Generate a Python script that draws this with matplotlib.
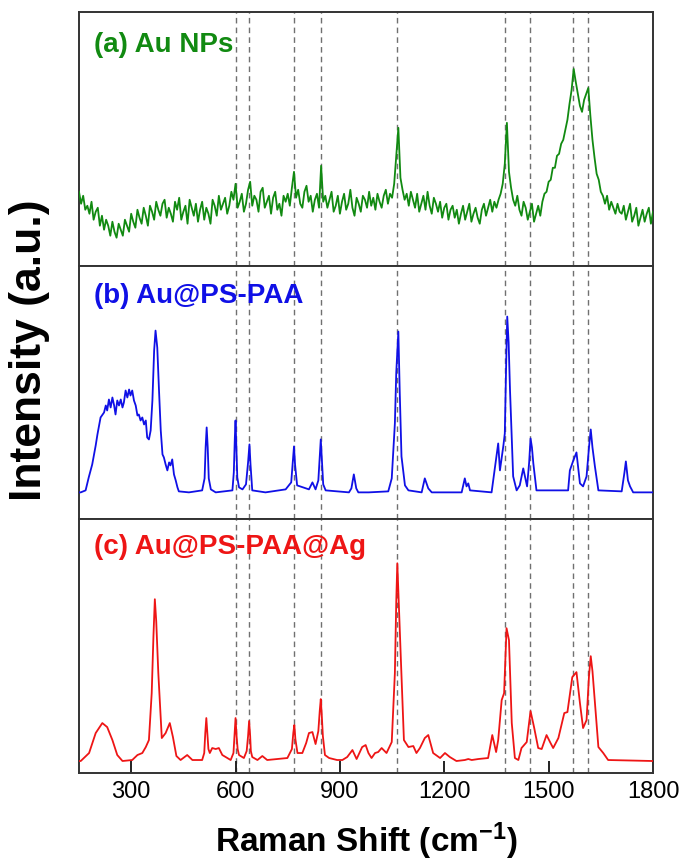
import numpy as np
import matplotlib
matplotlib.use("Agg")
import matplotlib.pyplot as plt

plt.rcParams['font.family'] = ['Liberation Sans', 'DejaVu Sans']
plt.rcParams['mathtext.fontset'] = 'custom'
plt.rcParams['mathtext.rm'] = 'Liberation Sans:bold'
plt.rcParams['mathtext.bf'] = 'Liberation Sans:bold'
plt.rcParams['mathtext.default'] = 'bf'

# ---------------- data ----------------
dashed_positions = [600, 640, 768, 845, 1065, 1375, 1445, 1570, 1614]
x_ticks = [300, 600, 900, 1200, 1500, 1800]

# (a) Au NPs : sampled every 6 cm-1 from 150 to 1800
a_shift = np.arange(150, 1801, 6)
a_int = [
    74, 62, 70, 56, 60, 52, 64, 46, 54, 58, 40, 50, 36, 46, 40, 30, 44, 34, 28, 42,
    36, 30, 46, 40, 34, 52, 44, 38, 56, 48, 42, 58, 50, 40, 60, 54, 46, 64, 56, 50,
    62, 66, 48, 58, 52, 44, 64, 56, 68, 46, 54, 60, 42, 66, 58, 50, 62, 44, 56, 64,
    46, 58, 52, 42, 66, 60, 50, 70, 56, 62, 68, 52, 60, 74, 66, 82, 58, 64, 72, 54,
    62, 76, 84, 60, 70, 66, 54, 74, 78, 58, 64, 70, 52, 68, 74, 56, 62, 50, 70, 64,
    72, 60, 78, 94, 68, 76, 62, 58, 74, 80, 64, 70, 54, 66, 72, 58, 100, 64, 70, 58,
    66, 74, 54, 60, 70, 52, 64, 72, 56, 62, 76, 58, 50, 68, 62, 54, 70, 66, 58, 74,
    60, 68, 56, 72, 64, 58, 70, 76, 62, 72, 68, 82, 110, 138, 88, 76, 66, 72, 60, 74,
    66, 58, 72, 54, 62, 70, 56, 74, 60, 52, 68, 62, 54, 64, 48, 58, 62, 46, 56, 60,
    48, 56, 42, 52, 60, 46, 54, 62, 44, 52, 58, 48, 42, 56, 62, 50, 58, 66, 54, 64,
    58, 66, 72, 82, 102, 143, 94, 78, 66, 60, 70, 56, 50, 64, 58, 46, 54, 62, 44, 52,
    60, 50, 64, 72, 74, 84, 86, 98, 98, 110, 112, 122, 126, 136, 146, 162, 176, 197, 184, 172,
    160, 154, 166, 172, 178, 150, 126, 108, 92, 86, 74, 70, 62, 70, 56, 64, 58, 52, 62, 54,
    52, 60, 46, 54, 62, 44, 50, 58, 40, 48, 56, 44, 52, 58, 42, 54,
]

# (b) Au@PS-PAA
b_shift = [150, 155, 169, 178, 188, 198, 203, 212, 222, 227, 231, 236, 241, 246, 251, 255,
           260, 265, 270, 275, 279, 284, 289, 294, 298, 303, 308, 313, 318, 322, 327, 332,
           337, 342, 346, 351, 356, 361, 366, 370, 375, 380, 385, 390, 394, 399, 404, 409,
           413, 418, 423, 428, 433, 437, 466, 504, 511, 514, 517, 520, 523, 529, 543,
           591, 595, 598, 600, 602, 605, 610, 620, 630, 636, 640, 643, 648, 686,
           744, 760, 765, 768, 771, 777, 811, 821, 830, 838, 842, 845, 848, 852, 859,
           926, 933, 940, 947, 953, 983, 1039, 1049, 1058, 1062, 1068, 1072, 1077, 1087,
           1097, 1135, 1144, 1150, 1154, 1164, 1250, 1259, 1264, 1269, 1274, 1336, 1346,
           1355, 1360, 1370, 1374, 1378, 1381, 1385, 1389, 1398, 1408, 1417, 1427, 1438,
           1444, 1448, 1452, 1456, 1465, 1556, 1561, 1571, 1580, 1590, 1599, 1609, 1616,
           1621, 1626, 1633, 1643, 1710, 1718, 1722, 1728, 1734, 1743, 1800]
b_int = [0, 0, 2, 15, 28, 47, 58, 75, 80, 87, 82, 93, 85, 95, 87, 78,
         92, 87, 93, 85, 90, 102, 95, 103, 97, 102, 92, 87, 77, 78, 72, 75,
         68, 72, 55, 53, 62, 92, 142, 162, 145, 102, 62, 38, 35, 28, 22, 30,
         27, 33, 18, 12, 5, 1, 0, 2, 14, 45, 65, 45, 14, 3, 0,
         2, 20, 55, 72, 50, 15, 5, 3, 8, 30, 48, 28, 2, 0,
         3, 10, 32, 46, 28, 7, 3, 10, 3, 12, 36, 53, 34, 8, 2,
         0, 4, 18, 4, 0, 0, 1, 14, 69, 120, 161, 100, 36, 7,
         2, 0, 14, 8, 4, 0, 0, 14, 6, 9, 2, 0, 26,
         49, 22, 47, 59, 130, 176, 150, 102, 16, 2, 7, 24, 6,
         30, 54, 45, 29, 2, 2, 22, 32, 40, 9, 6, 16, 45,
         63, 45, 26, 2, 1, 20, 31, 12, 6, 0, 0]

# (c) Au@PS-PAA@Ag
c_shift = [150, 155, 179, 198, 217, 231, 246, 260, 275, 303, 318, 332, 342, 351, 359, 364,
           368, 372, 378, 388, 399, 411, 420, 430, 442, 461, 476, 504, 510, 513, 516, 519,
           522, 526, 533, 543, 552, 562, 586, 594, 597, 600, 603, 606, 610, 624, 632, 636,
           639, 642, 644, 648, 663, 677, 691, 749, 762, 766, 769, 772, 778, 792, 803, 811,
           821, 830, 838, 842, 845, 848, 851, 857, 869, 892, 907, 921, 936, 948, 964, 974,
           982, 991, 1001, 1010, 1020, 1034, 1049, 1058, 1062, 1065, 1069, 1075, 1084, 1097,
           1111, 1120, 1130, 1144, 1154, 1168, 1188, 1202, 1216, 1235, 1259, 1269, 1279, 1298,
           1326, 1338, 1349, 1355, 1365, 1372, 1379, 1386, 1390, 1394, 1403, 1413, 1422, 1437,
           1448, 1458, 1470, 1480, 1494, 1504, 1513, 1528, 1545, 1554, 1568, 1580, 1590, 1599,
           1609, 1616, 1621, 1626, 1631, 1643, 1657, 1671, 1800]
c_int = [0, 0, 8, 28, 38, 34, 21, 6, 0, 1, 6, 8, 14, 21, 68, 125,
         162, 140, 88, 23, 28, 38, 24, 5, 1, 6, 1, 1, 8, 28, 43, 28,
         12, 8, 13, 12, 13, 6, 1, 8, 25, 43, 25, 12, 6, 3, 10, 25,
         40, 25, 10, 4, 1, 5, 1, 3, 12, 28, 36, 22, 8, 8, 18, 28,
         29, 17, 30, 50, 62, 45, 25, 6, 3, 1, 1, 4, 11, 2, 14, 16,
         8, 3, 8, 9, 13, 8, 19, 88, 160, 198, 160, 104, 21, 14,
         15, 8, 13, 23, 26, 8, 3, 8, 4, 0, 1, 2, 1, 2,
         3, 26, 9, 21, 61, 68, 133, 121, 80, 38, 3, 1, 13, 19,
         50, 34, 13, 12, 26, 19, 13, 23, 48, 49, 84, 89, 58, 33,
         41, 85, 105, 90, 68, 14, 8, 1, 0]

panel_labels = ['(a) Au NPs', '(b) Au@PS-PAA', '(c) Au@PS-PAA@Ag']
line_colors = ['#118a11', '#1010e6', '#ee1515']
ylims = [(0, 254), (-27, 227), (-12, 242)]
label_y = [0.87, 0.88, 0.89]

# ---------------- figure ----------------
fig = plt.figure(figsize=(6.85, 8.61), dpi=100)
left, right = 79 / 685, 653 / 685
top, bottom = 1 - 12 / 861, 1 - 773 / 861
h = (top - bottom) / 3

series = [(a_shift, a_int), (b_shift, b_int), (c_shift, c_int)]
axes = []
for i, (xs, ys) in enumerate(series):
    ax = fig.add_axes([left, top - (i + 1) * h, right - left, h])
    axes.append(ax)
    for xv in dashed_positions:
        ax.axvline(xv, color='#707070', lw=1.0, ls=(0, (4, 3)), zorder=1)
    ax.plot(xs, ys, color=line_colors[i], lw=1.3, zorder=3)
    ax.set_xlim(150, 1800)
    ax.set_ylim(*ylims[i])
    ax.set_yticks([])
    for sp in ax.spines.values():
        sp.set_color('#333333')
        sp.set_linewidth(1.4)
    ax.text(0.026, label_y[i], panel_labels[i], transform=ax.transAxes,
            color=line_colors[i], fontsize=20, fontweight='bold',
            ha='left', va='center', zorder=4)
    if i < 2:
        ax.set_xticks([])
    else:
        ax.set_xticks(x_ticks)
        ax.set_xticklabels([str(t) for t in x_ticks])
        ax.tick_params(axis='x', direction='in', length=9, width=1.4,
                       labelsize=17, pad=6, color='#222222')

fig.text((left + right) / 2, 1 - 841 / 861, r'Raman Shift (cm$^{-1}$)',
         ha='center', va='center', fontsize=24, fontweight='bold')
fig.text(30 / 685, 1 - 350 / 861, 'Intensity (a.u.)', rotation=90,
         ha='center', va='center', fontsize=32, fontweight='bold')

fig.savefig('out.png', dpi=100)
